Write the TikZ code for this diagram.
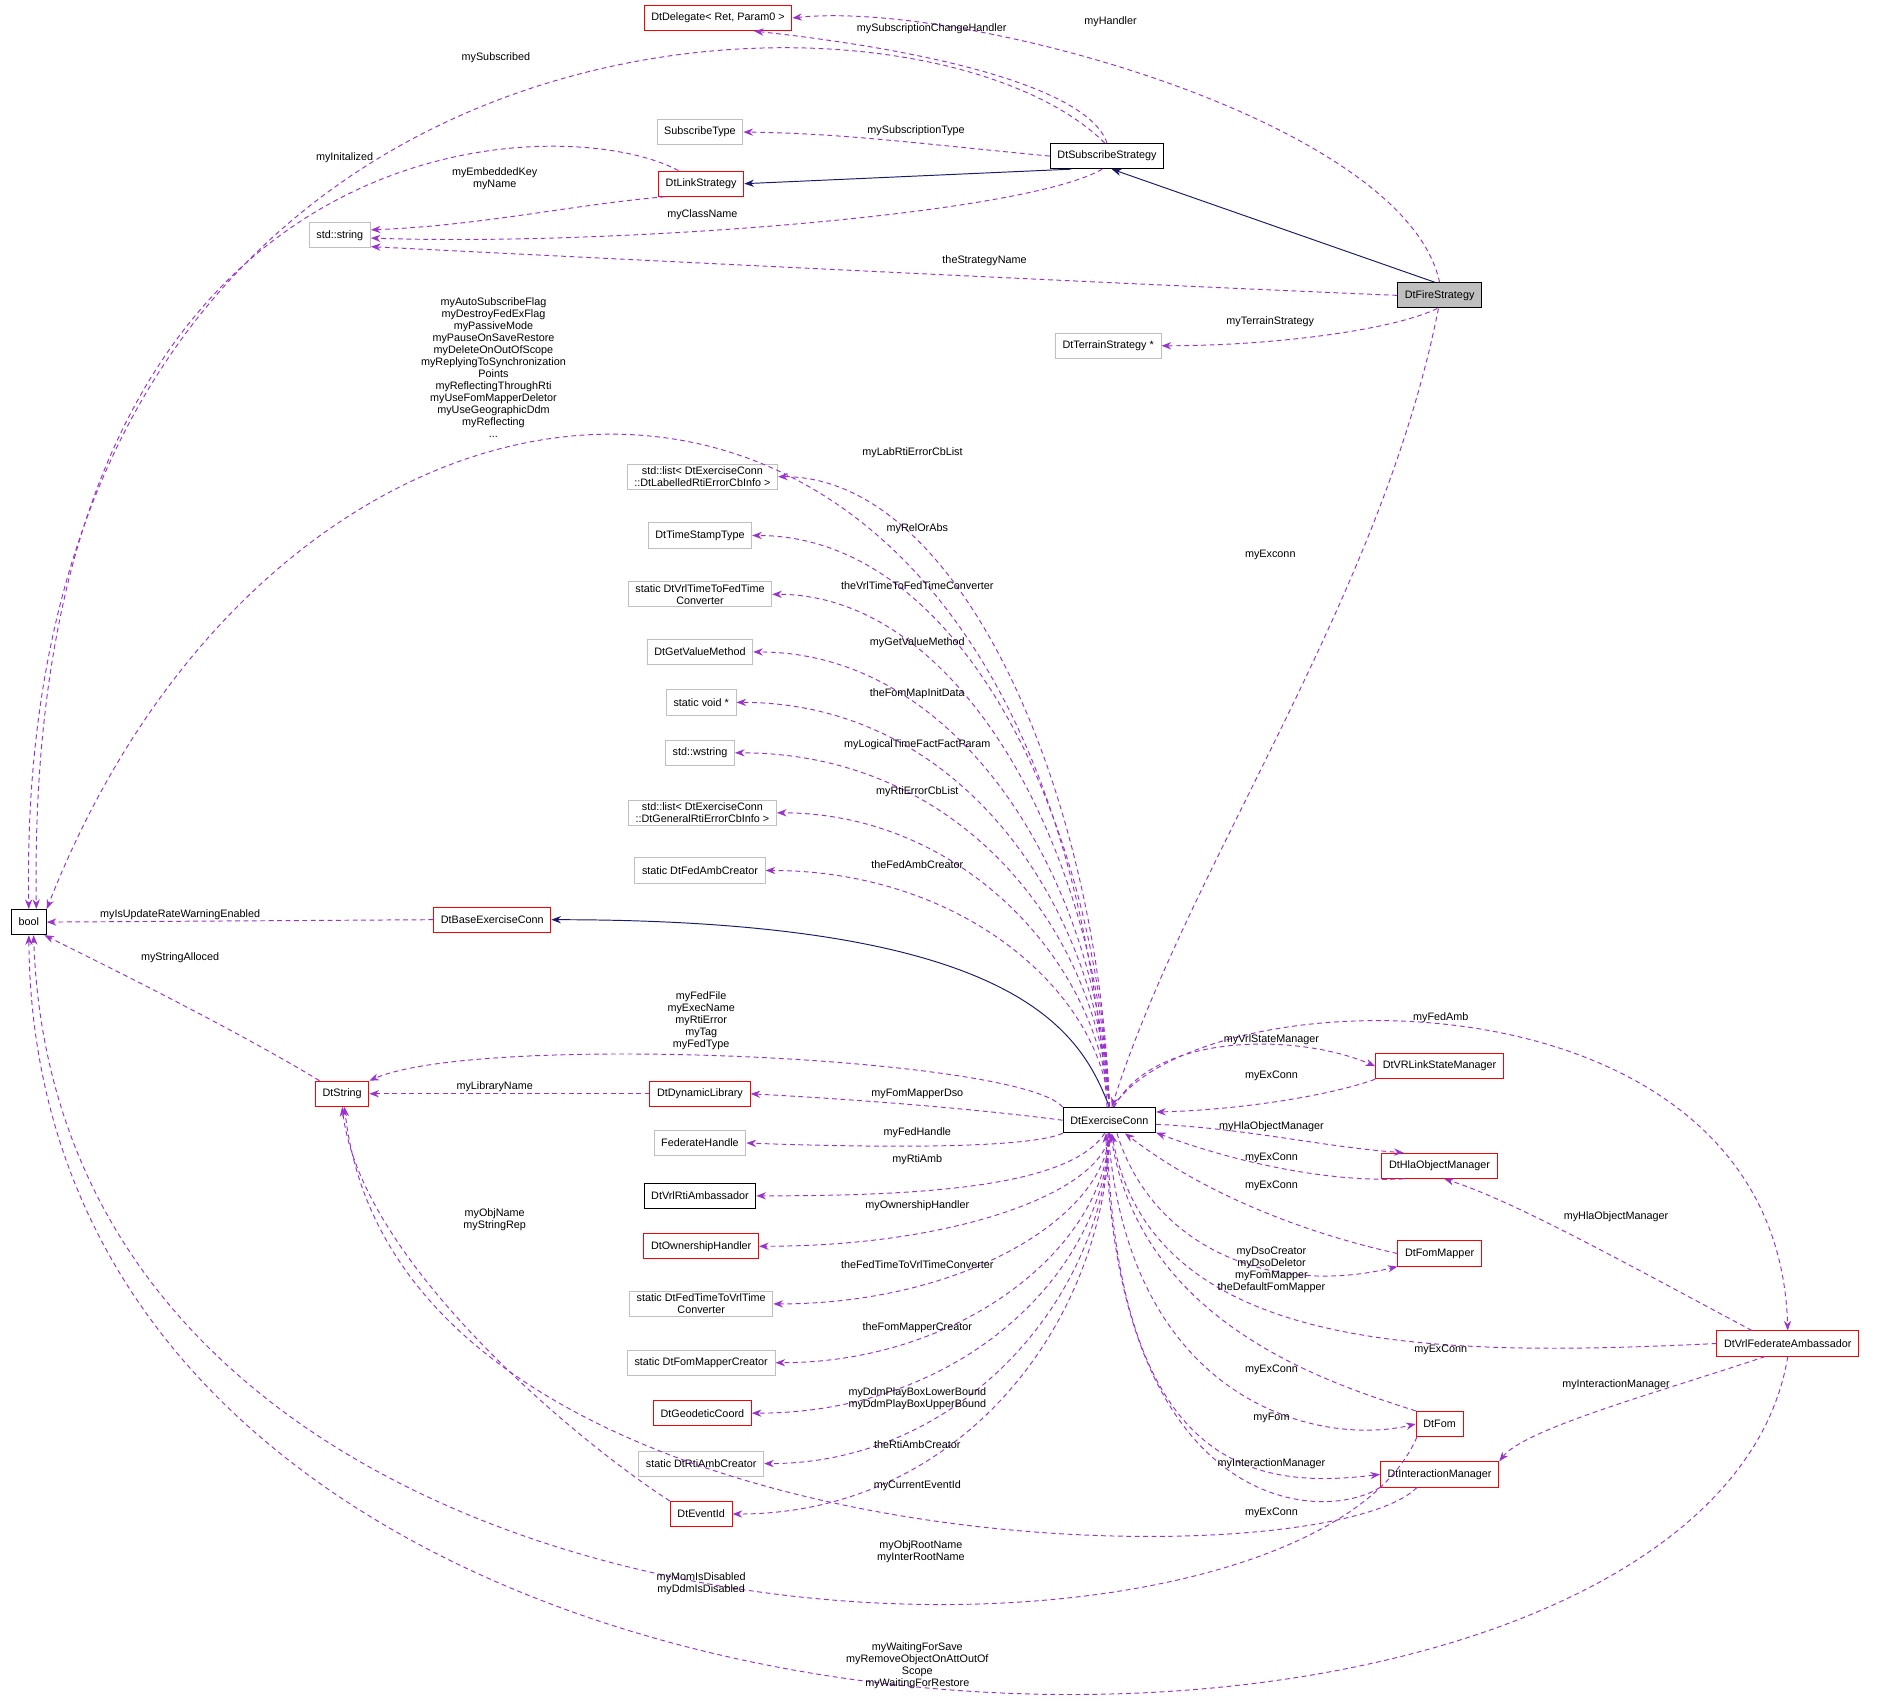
\documentclass[tikz,border=0pt]{standalone}
\usepackage{fontspec}
\setmainfont{Liberation Sans}
\usetikzlibrary{arrows.meta}
\definecolor{dxred}{HTML}{FF0000}
\definecolor{dxgrey}{HTML}{BFBFBF}
\definecolor{dxpurple}{HTML}{9A32CD}
\definecolor{dxnavy}{HTML}{191970}
\tikzset{every picture/.style={line width=0.8pt}}
\tikzset{
  cls/.style={draw=black, rectangle, minimum height=21, inner xsep=6, inner ysep=2, align=center, font=\fontsize{9}{10}\selectfont},
  clsred/.style={cls, draw=dxred},
  clsgrey/.style={cls, draw=dxgrey},
  lbl/.style={inner sep=0.5, align=center, font=\fontsize{9}{10}\selectfont},
  dep/.style={draw=dxpurple, dash pattern=on 4pt off 3pt, -{Stealth[length=8,width=6,fill=dxpurple]}},
  inh/.style={draw=dxnavy, -{Stealth[length=8,width=6,fill=dxnavy]}},
}
\begin{document}
\begin{tikzpicture}[x=1pt,y=-1pt]
\useasboundingbox (0,0) rectangle (1570,1418);

% classes, top part
\node[clsred]  (deleg) at (598,15)  {DtDelegate< Ret, Param0 >};
\node[clsgrey] (stype) at (583,110) {SubscribeType};
\node[cls]     (subs)  at (922,130) {DtSubscribeStrategy};
\node[clsred]  (link)  at (584,153) {DtLinkStrategy};
\node[clsgrey] (strg)  at (283,196) {std::string};
\node[cls, fill=dxgrey] (fire) at (1199,246) {DtFireStrategy};
\node[clsgrey] (terr)  at (923,288) {DtTerrainStrategy *};
\node[cls]     (bool)  at (24,768)  {bool};

% classes, left column
\node[clsgrey] (lablist) at (585,397) {std::list< DtExerciseConn\\::DtLabelledRtiErrorCbInfo >};
\node[clsgrey] (tst)     at (583,446) {DtTimeStampType};
\node[clsgrey] (vrl2fed) at (583,495) {static DtVrlTimeToFedTime\\Converter};
\node[clsgrey] (getval)  at (583,543) {DtGetValueMethod};
\node[clsgrey] (svoid)   at (584,585) {static void *};
\node[clsgrey] (wstr)    at (583,627) {std::wstring};
\node[clsgrey] (genlist) at (585,677) {std::list< DtExerciseConn\\::DtGeneralRtiErrorCbInfo >};
\node[clsgrey] (fedamb)  at (583,725) {static DtFedAmbCreator};
\node[clsred]  (base)    at (410,766) {DtBaseExerciseConn};
\node[clsred]  (dstr)    at (285,911) {DtString};
\node[clsred]  (dlib)    at (583,911) {DtDynamicLibrary};
\node[clsgrey] (fh)      at (583,952) {FederateHandle};
\node[cls]     (rtiamb)  at (583,996) {DtVrlRtiAmbassador};
\node[clsred]  (own)     at (584,1038) {DtOwnershipHandler};
\node[clsgrey] (fed2vrl) at (584,1086) {static DtFedTimeToVrlTime\\Converter};
\node[clsgrey] (fmcre)   at (584,1135) {static DtFomMapperCreator};
\node[clsred]  (geo)     at (585,1177) {DtGeodeticCoord};
\node[clsgrey] (rticre)  at (584,1219) {static DtRtiAmbCreator};
\node[clsred]  (evid)    at (584,1261) {DtEventId};

% classes, right part
\node[cls]    (ec)    at (924,933)  {DtExerciseConn};
\node[clsred] (vrls)  at (1199,888) {DtVRLinkStateManager};
\node[clsred] (hla)   at (1199,971) {DtHlaObjectManager};
\node[clsred] (fomm)  at (1199,1044) {DtFomMapper};
\node[clsred] (fed)   at (1489,1119) {DtVrlFederateAmbassador};
\node[clsred] (fom)   at (1199,1186) {DtFom};
\node[clsred] (inter) at (1199,1228) {DtInteractionManager};

% inheritance
\draw[inh] (subs.200) -- (link.east);
\draw[inh] (fire.110) -- (subs.-70);
\draw[inh] (ec.north) .. controls (900,860) and (850,766) .. (base.east);

% members
\draw[dep] (fire.north) .. controls (1170,100) and (800,0) .. (deleg.east);
\draw[dep] (subs.north) .. controls (905,70) and (760,40) .. (deleg.-20);
\draw[dep] (subs.100) .. controls (760,-40) and (10,-20) .. (bool.north);
\draw[dep] (subs.west) .. controls (760,119) and (700,111) .. (stype.east);
\draw[dep] (link.150) .. controls (470,90) and (20,90) .. (bool.60);
\draw[dep] (link.200) .. controls (480,170) and (400,188) .. (strg.10);
\draw[dep] (subs.-110) .. controls (850,180) and (500,205) .. (strg.-5);
\draw[dep] (fire.west) .. controls (900,235) and (500,215) .. (strg.-20);
\draw[dep] (fire.-100) .. controls (1160,275) and (1060,288) .. (terr.east);
\draw[dep] (fire.-95) .. controls (1150,500) and (990,720) .. (ec.80);
\draw[dep] (ec.100) .. controls (870,190) and (250,220) .. (bool.north east);
\foreach \n/\yy in {lablist/397,tst/446,vrl2fed/495,getval/543,svoid/585,wstr/627,genlist/677,fedamb/725}
  \draw[dep] (ec.north) .. controls (915,{(923+\yy)/2}) and (800,\yy) .. (\n.east);
\draw[dep] (base.west) -- (bool.east);
\draw[dep] (dstr.150) .. controls (200,860) and (100,810) .. (bool.-40);
\draw[dep] (ec.north west) .. controls (850,880) and (400,860) .. (dstr.north east);
\draw[dep] (dlib.west) -- (dstr.east);
\draw[dep] (ec.west) .. controls (800,922) and (700,915) .. (dlib.east);
\draw[dep] (ec.south west) .. controls (860,955) and (760,957) .. (fh.east);
\draw[dep] (ec.-110) .. controls (890,990) and (760,996) .. (rtiamb.east);
\foreach \n/\yy in {own/1038,fed2vrl/1086,fmcre/1135,geo/1177,rticre/1219,evid/1261}
  \draw[dep] (ec.south) .. controls (920,{(944+\yy)/2}) and (800,\yy) .. (\n.east);
\draw[dep] (evid.north west) .. controls (480,1200) and (300,1050) .. (dstr.south);
\draw[dep] (ec.70) .. controls (960,860) and (1080,860) .. (vrls.west);
\draw[dep] (vrls.south west) .. controls (1100,915) and (1020,925) .. (ec.10);
\draw[dep] (ec.-5) .. controls (1040,940) and (1100,955) .. (hla.160);
\draw[dep] (hla.200) .. controls (1100,985) and (1020,965) .. (ec.-15);
\draw[dep] (fomm.west) .. controls (1100,1030) and (1010,1000) .. (ec.-40);
\draw[dep] (ec.-60) .. controls (960,1040) and (1060,1080) .. (fomm.south west);
\draw[dep] (ec.75) .. controls (1000,810) and (1480,800) .. (fed.north);
\draw[dep] (fed.160) .. controls (1350,1050) and (1260,1000) .. (hla.-70);
\draw[dep] (fed.west) .. controls (1200,1130) and (960,1130) .. (ec.-80);
\draw[dep] (fed.-150) .. controls (1380,1160) and (1270,1190) .. (inter.north east);
\draw[dep] (fom.north west) .. controls (1100,1150) and (950,1100) .. (ec.-85);
\draw[dep] (ec.-95) .. controls (940,1170) and (1100,1205) .. (fom.west);
\draw[dep] (ec.-100) .. controls (930,1230) and (1050,1240) .. (inter.west);
\draw[dep] (inter.south west) .. controls (1100,1270) and (930,1260) .. (ec.-105);
\draw[dep] (inter.-150) .. controls (1100,1320) and (330,1310) .. (dstr.-80);
\draw[dep] (fom.-150) .. controls (1080,1430) and (50,1420) .. (bool.-70);
\draw[dep] (fed.south) .. controls (1420,1550) and (30,1550) .. (bool.south);

% labels
\node[lbl] (l1) at (925,18) {myHandler};
\node[lbl] (l2) at (776,24) {mySubscriptionChangeHandler};
\node[lbl] (l3) at (413,48) {mySubscribed};
\node[lbl] (l4) at (763,109) {mySubscriptionType};
\node[lbl] (l5) at (287,131) {myInitalized};
\node[lbl] (l6) at (412,149) {myEmbeddedKey\\myName};
\node[lbl] (l7) at (585,179) {myClassName};
\node[lbl] (l8) at (820,217) {theStrategyName};
\node[lbl] (l9) at (1058,268) {myTerrainStrategy};
\node[lbl] (l10) at (1058,462) {myExconn};
\node[lbl] (l11) at (411,306) {myAutoSubscribeFlag\\myDestroyFedExFlag\\myPassiveMode\\myPauseOnSaveRestore\\myDeleteOnOutOfScope\\myReplyingToSynchronization\\Points\\myReflectingThroughRti\\myUseFomMapperDeletor\\myUseGeographicDdm\\myReflecting\\...};
\node[lbl] (l12) at (760,377) {myLabRtiErrorCbList};
\node[lbl] (l13) at (764,440) {myRelOrAbs};
\node[lbl] (l14) at (764,488) {theVrlTimeToFedTimeConverter};
\node[lbl] (l15) at (764,535) {myGetValueMethod};
\node[lbl] (l16) at (764,578) {theFomMapInitData};
\node[lbl] (l17) at (764,620) {myLogicalTimeFactFactParam};
\node[lbl] (l18) at (764,659) {myRtiErrorCbList};
\node[lbl] (l19) at (764,720) {theFedAmbCreator};
\node[lbl] (l20) at (150,762) {myIsUpdateRateWarningEnabled};
\node[lbl] (l21) at (150,798) {myStringAlloced};
\node[lbl] (l22) at (584,850) {myFedFile\\myExecName\\myRtiError\\myTag\\myFedType};
\node[lbl] (l23) at (412,905) {myLibraryName};
\node[lbl] (l24) at (764,911) {myFomMapperDso};
\node[lbl] (l25) at (764,943) {myFedHandle};
\node[lbl] (l26) at (764,966) {myRtiAmb};
\node[lbl] (l27) at (764,1004) {myOwnershipHandler};
\node[lbl] (l28) at (764,1053) {theFedTimeToVrlTimeConverter};
\node[lbl] (l29) at (764,1106) {theFomMapperCreator};
\node[lbl] (l30) at (764,1165) {myDdmPlayBoxLowerBound\\myDdmPlayBoxUpperBound};
\node[lbl] (l31) at (764,1203) {theRtiAmbCreator};
\node[lbl] (l32) at (764,1237) {myCurrentEventId};
\node[lbl] (l33) at (412,1016) {myObjName\\myStringRep};
\node[lbl] (l34) at (1059,866) {myVrlStateManager};
\node[lbl] (l35) at (1059,896) {myExConn};
\node[lbl] (l36) at (1059,938) {myHlaObjectManager};
\node[lbl] (l37) at (1059,964) {myExConn};
\node[lbl] (l38) at (1059,988) {myExConn};
\node[lbl] (l39) at (1059,1058) {myDsoCreator\\myDsoDeletor\\myFomMapper\\theDefaultFomMapper};
\node[lbl] (l40) at (1200,848) {myFedAmb};
\node[lbl] (l41) at (1346,1013) {myHlaObjectManager};
\node[lbl] (l42) at (1200,1124) {myExConn};
\node[lbl] (l43) at (1346,1153) {myInteractionManager};
\node[lbl] (l44) at (1059,1141) {myExConn};
\node[lbl] (l45) at (1059,1181) {myFom};
\node[lbl] (l46) at (1059,1219) {myInteractionManager};
\node[lbl] (l47) at (1059,1260) {myExConn};
\node[lbl] (l48) at (767,1292) {myObjRootName\\myInterRootName};
\node[lbl] (l49) at (584,1319) {myMomIsDisabled\\myDdmIsDisabled};
\node[lbl] (l50) at (764,1387) {myWaitingForSave\\myRemoveObjectOnAttOutOf\\Scope\\myWaitingForRestore};
\end{tikzpicture}
\end{document}
